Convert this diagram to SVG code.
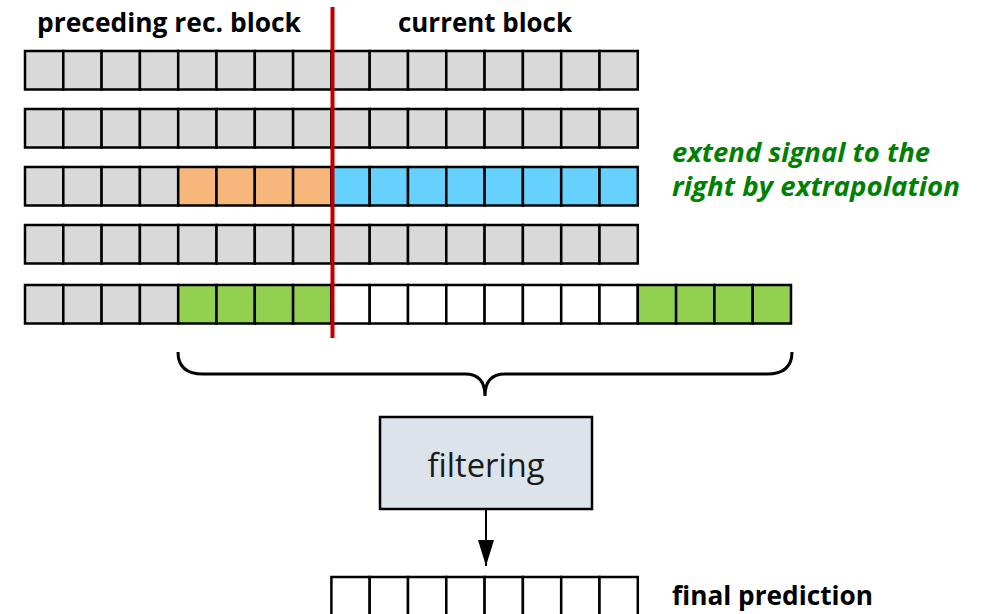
<svg xmlns="http://www.w3.org/2000/svg" width="985" height="614" viewBox="0 0 985 614">
<defs>
<style>
.c{stroke:#000;stroke-width:2.5}
.g{fill:#d9d9d9}
.o{fill:#f8b77a}
.b{fill:#66d1ff}
.gr{fill:#92d050}
.w{fill:#fff}
.lbl{font-family:"Open Sans","Lato","Liberation Sans",sans-serif;font-weight:bold;font-size:27px;fill:#000}
.ext{font-family:"Open Sans","Lato","Liberation Sans",sans-serif;font-weight:bold;font-style:italic;font-size:27px;fill:#008000}
</style>
<marker id="ah" markerWidth="26" markerHeight="16" refX="26" refY="8" orient="auto" markerUnits="userSpaceOnUse" viewBox="0 0 26 16">
<path d="M0,0 L26,8 L0,16 Z" fill="#000"/>
</marker>
</defs>
<rect width="985" height="614" fill="#fff"/>
<g id="label-preceding"><text class="lbl" x="37" y="32" textLength="264" lengthAdjust="spacingAndGlyphs">preceding rec. block</text></g>
<g id="label-current"><text class="lbl" x="398" y="32" textLength="174" lengthAdjust="spacingAndGlyphs">current block</text></g>
<g id="label-extend">
<text class="ext" x="672" y="162" textLength="258" lengthAdjust="spacingAndGlyphs">extend signal to the</text>
<text class="ext" x="672" y="196" textLength="288" lengthAdjust="spacingAndGlyphs">right by extrapolation</text>
</g>
<g id="row1">
<rect class="c g" x="25" y="51" width="38.3" height="38.5"/><rect class="c g" x="63.3" y="51" width="38.3" height="38.5"/><rect class="c g" x="101.6" y="51" width="38.3" height="38.5"/><rect class="c g" x="139.9" y="51" width="38.3" height="38.5"/><rect class="c g" x="178.2" y="51" width="38.3" height="38.5"/><rect class="c g" x="216.5" y="51" width="38.3" height="38.5"/><rect class="c g" x="254.8" y="51" width="38.3" height="38.5"/><rect class="c g" x="293.1" y="51" width="38.3" height="38.5"/><rect class="c g" x="331.4" y="51" width="38.3" height="38.5"/><rect class="c g" x="369.7" y="51" width="38.3" height="38.5"/><rect class="c g" x="408" y="51" width="38.3" height="38.5"/><rect class="c g" x="446.3" y="51" width="38.3" height="38.5"/><rect class="c g" x="484.6" y="51" width="38.3" height="38.5"/><rect class="c g" x="522.9" y="51" width="38.3" height="38.5"/><rect class="c g" x="561.2" y="51" width="38.3" height="38.5"/><rect class="c g" x="599.5" y="51" width="38.3" height="38.5"/>
</g>
<g id="row2">
<rect class="c g" x="25" y="109" width="38.3" height="38.5"/><rect class="c g" x="63.3" y="109" width="38.3" height="38.5"/><rect class="c g" x="101.6" y="109" width="38.3" height="38.5"/><rect class="c g" x="139.9" y="109" width="38.3" height="38.5"/><rect class="c g" x="178.2" y="109" width="38.3" height="38.5"/><rect class="c g" x="216.5" y="109" width="38.3" height="38.5"/><rect class="c g" x="254.8" y="109" width="38.3" height="38.5"/><rect class="c g" x="293.1" y="109" width="38.3" height="38.5"/><rect class="c g" x="331.4" y="109" width="38.3" height="38.5"/><rect class="c g" x="369.7" y="109" width="38.3" height="38.5"/><rect class="c g" x="408" y="109" width="38.3" height="38.5"/><rect class="c g" x="446.3" y="109" width="38.3" height="38.5"/><rect class="c g" x="484.6" y="109" width="38.3" height="38.5"/><rect class="c g" x="522.9" y="109" width="38.3" height="38.5"/><rect class="c g" x="561.2" y="109" width="38.3" height="38.5"/><rect class="c g" x="599.5" y="109" width="38.3" height="38.5"/>
</g>
<g id="row3">
<rect class="c g" x="25" y="167" width="38.3" height="38.5"/><rect class="c g" x="63.3" y="167" width="38.3" height="38.5"/><rect class="c g" x="101.6" y="167" width="38.3" height="38.5"/><rect class="c g" x="139.9" y="167" width="38.3" height="38.5"/><rect class="c o" x="178.2" y="167" width="38.3" height="38.5"/><rect class="c o" x="216.5" y="167" width="38.3" height="38.5"/><rect class="c o" x="254.8" y="167" width="38.3" height="38.5"/><rect class="c o" x="293.1" y="167" width="38.3" height="38.5"/><rect class="c b" x="331.4" y="167" width="38.3" height="38.5"/><rect class="c b" x="369.7" y="167" width="38.3" height="38.5"/><rect class="c b" x="408" y="167" width="38.3" height="38.5"/><rect class="c b" x="446.3" y="167" width="38.3" height="38.5"/><rect class="c b" x="484.6" y="167" width="38.3" height="38.5"/><rect class="c b" x="522.9" y="167" width="38.3" height="38.5"/><rect class="c b" x="561.2" y="167" width="38.3" height="38.5"/><rect class="c b" x="599.5" y="167" width="38.3" height="38.5"/>
</g>
<g id="row4">
<rect class="c g" x="25" y="225" width="38.3" height="38.5"/><rect class="c g" x="63.3" y="225" width="38.3" height="38.5"/><rect class="c g" x="101.6" y="225" width="38.3" height="38.5"/><rect class="c g" x="139.9" y="225" width="38.3" height="38.5"/><rect class="c g" x="178.2" y="225" width="38.3" height="38.5"/><rect class="c g" x="216.5" y="225" width="38.3" height="38.5"/><rect class="c g" x="254.8" y="225" width="38.3" height="38.5"/><rect class="c g" x="293.1" y="225" width="38.3" height="38.5"/><rect class="c g" x="331.4" y="225" width="38.3" height="38.5"/><rect class="c g" x="369.7" y="225" width="38.3" height="38.5"/><rect class="c g" x="408" y="225" width="38.3" height="38.5"/><rect class="c g" x="446.3" y="225" width="38.3" height="38.5"/><rect class="c g" x="484.6" y="225" width="38.3" height="38.5"/><rect class="c g" x="522.9" y="225" width="38.3" height="38.5"/><rect class="c g" x="561.2" y="225" width="38.3" height="38.5"/><rect class="c g" x="599.5" y="225" width="38.3" height="38.5"/>
</g>
<g id="row5">
<rect class="c g" x="25" y="285" width="38.3" height="38.5"/><rect class="c g" x="63.3" y="285" width="38.3" height="38.5"/><rect class="c g" x="101.6" y="285" width="38.3" height="38.5"/><rect class="c g" x="139.9" y="285" width="38.3" height="38.5"/><rect class="c gr" x="178.2" y="285" width="38.3" height="38.5"/><rect class="c gr" x="216.5" y="285" width="38.3" height="38.5"/><rect class="c gr" x="254.8" y="285" width="38.3" height="38.5"/><rect class="c gr" x="293.1" y="285" width="38.3" height="38.5"/><rect class="c w" x="331.4" y="285" width="38.3" height="38.5"/><rect class="c w" x="369.7" y="285" width="38.3" height="38.5"/><rect class="c w" x="408" y="285" width="38.3" height="38.5"/><rect class="c w" x="446.3" y="285" width="38.3" height="38.5"/><rect class="c w" x="484.6" y="285" width="38.3" height="38.5"/><rect class="c w" x="522.9" y="285" width="38.3" height="38.5"/><rect class="c w" x="561.2" y="285" width="38.3" height="38.5"/><rect class="c w" x="599.5" y="285" width="38.3" height="38.5"/><rect class="c gr" x="637.8" y="285" width="38.3" height="38.5"/><rect class="c gr" x="676.1" y="285" width="38.3" height="38.5"/><rect class="c gr" x="714.4" y="285" width="38.3" height="38.5"/><rect class="c gr" x="752.7" y="285" width="38.3" height="38.5"/>
</g>
<g id="boundary"><line x1="332.5" y1="7" x2="332.5" y2="338" stroke="#c00000" stroke-width="4"/></g>
<g id="filtering">
<rect x="380" y="417" width="212" height="92" fill="#dce3ea" stroke="#000" stroke-width="2.5"/>
<text x="486" y="477" text-anchor="middle" font-family="Open Sans,Lato,Liberation Sans,sans-serif" font-size="32" fill="#1a1a1a" textLength="117" lengthAdjust="spacingAndGlyphs">filtering</text>
</g>
<g id="final">
<rect class="c w" x="331.4" y="577" width="38.3" height="45"/><rect class="c w" x="369.7" y="577" width="38.3" height="45"/><rect class="c w" x="408" y="577" width="38.3" height="45"/><rect class="c w" x="446.3" y="577" width="38.3" height="45"/><rect class="c w" x="484.6" y="577" width="38.3" height="45"/><rect class="c w" x="522.9" y="577" width="38.3" height="45"/><rect class="c w" x="561.2" y="577" width="38.3" height="45"/><rect class="c w" x="599.5" y="577" width="38.3" height="45"/>
<text class="lbl" x="672" y="605" font-size="26" textLength="201" lengthAdjust="spacingAndGlyphs">final prediction</text>
</g>
<g id="connectors">
<path d="M178,352 Q178,374 203,374 L465,374 Q485,374 485,396 Q485,374 505,374 L767,374 Q792,374 792,352" fill="none" stroke="#000" stroke-width="3"/>
<line x1="486" y1="509" x2="486" y2="566" stroke="#000" stroke-width="2" marker-end="url(#ah)"/>
</g>
</svg>
